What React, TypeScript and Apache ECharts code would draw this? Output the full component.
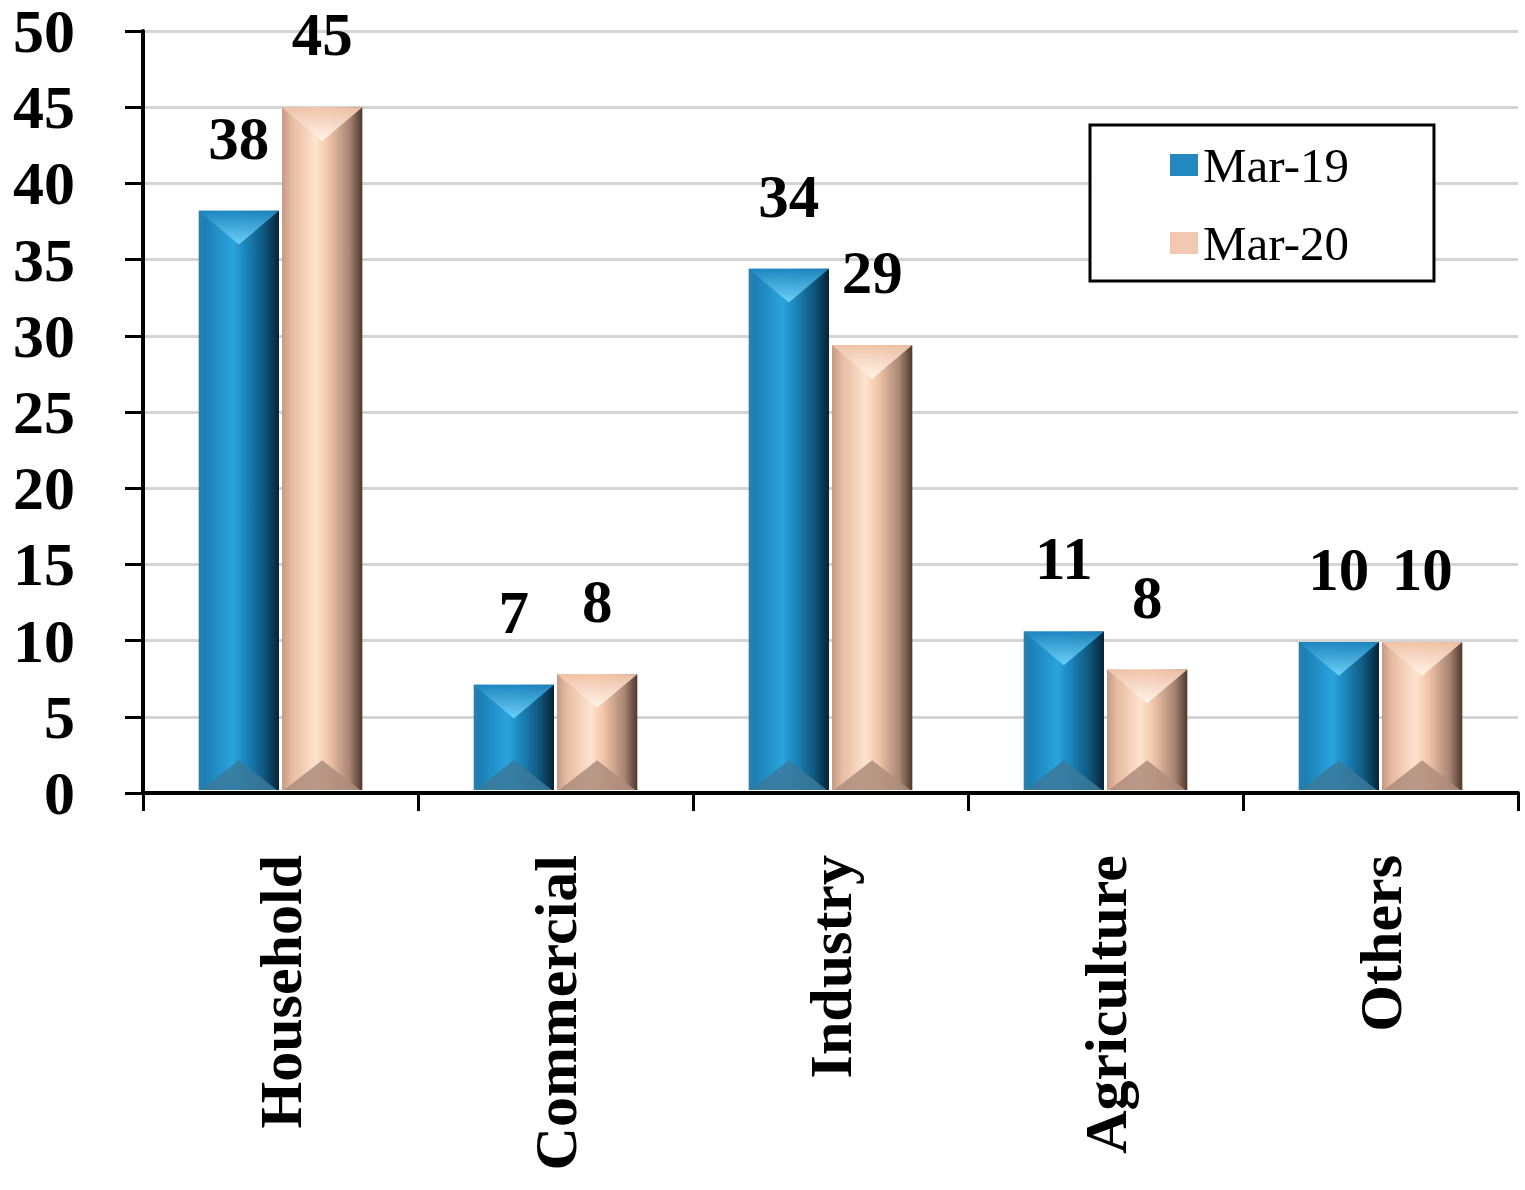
import React, { useEffect, useRef } from "react";
import * as echarts from "echarts";

const categories = ["Household", "Commercial", "Industry", "Agriculture", "Others"];
const seriesNames = ["Mar-19", "Mar-20"];
const mar19 = [38.2, 7.1, 34.4, 10.6, 9.9];
const mar20 = [45.0, 7.8, 29.4, 8.1, 9.9];
const yMin = 0;
const yMax = 50;
const yInterval = 5;

const FONT = '"Liberation Serif", "Times New Roman", serif';

const palettes = [
  {
    legend: "#2389c0",
    side: [
      [0, "#2f7fa9"],
      [0.08, "#1b7fb6"],
      [0.42, "#2aa4dd"],
      [0.55, "#1d8cc4"],
      [0.82, "#0f567c"],
      [1, "#062335"],
    ],
    topEdge: "#1d86c0",
    topApex: "#72d3fa",
    bottom: "#39799a",
  },
  {
    legend: "#f2c9b0",
    side: [
      [0, "#c49a84"],
      [0.12, "#e6bba2"],
      [0.42, "#ffe3cd"],
      [0.58, "#f0c4a9"],
      [0.84, "#a98573"],
      [1, "#4d372c"],
    ],
    topEdge: "#f0c2a7",
    topApex: "#fff6ec",
    bottom: "#ae8c7b",
  },
];

function makeRenderItem(seriesIdx: number) {
  const pal = palettes[seriesIdx];
  return (params: any, api: any) => {
    const idx = api.value(0);
    const val = api.value(1);
    const base = api.coord([idx, 0]);
    const top = api.coord([idx, val]);
    const band = api.size([1, 0])[0];
    const w = band * 0.292;
    const gap = band * 0.011;
    const x = seriesIdx === 0 ? base[0] - gap / 2 - w : base[0] + gap / 2;
    const yTop = top[1];
    const yBot = base[1] - 3;
    const h = yBot - yTop;
    const d = Math.min(w * 0.42, h / 2);
    const db = Math.min(w * 0.37, h / 2);
    const sideGrad = new echarts.graphic.LinearGradient(
      0,
      0,
      1,
      0,
      pal.side.map((s: any) => ({ offset: s[0], color: s[1] }))
    );
    const topGrad = new echarts.graphic.LinearGradient(0, 0, 0, 1, [
      { offset: 0, color: pal.topEdge },
      { offset: 1, color: pal.topApex },
    ]);
    return {
      type: "group",
      children: [
        {
          type: "rect",
          shape: { x, y: yTop, width: w, height: h },
          style: { fill: sideGrad },
        },
        {
          type: "polygon",
          shape: {
            points: [
              [x, yTop],
              [x + w, yTop],
              [x + w / 2, yTop + d],
            ],
          },
          style: { fill: topGrad, opacity: 0.95 },
        },
        {
          type: "polygon",
          shape: {
            points: [
              [x + 2, yBot],
              [x + w - 2, yBot],
              [x + w / 2, yBot - db],
            ],
          },
          style: { fill: pal.bottom, opacity: 0.85 },
        },
        {
          type: "text",
          style: {
            text: String(Math.round(val)),
            x: x + w / 2,
            y: yTop - 42,
            align: "center",
            verticalAlign: "bottom",
            fontSize: 61,
            fontWeight: "bold",
            fontFamily: FONT,
            fill: "#000",
          },
        },
      ],
    };
  };
}

export default function App() {
  const ref = useRef<HTMLDivElement>(null);
  useEffect(() => {
    if (!ref.current) return;
    const chart = echarts.init(ref.current, undefined, { renderer: "svg" });
    const values = [mar19, mar20];
    chart.setOption({
      animation: false,
      backgroundColor: "#ffffff",
      grid: { left: 143, right: 7, top: 23, bottom: 397, containLabel: false },
      legend: {
        orient: "vertical",
        left: 1090,
        top: 125,
        width: 345,
        padding: [15, 85, 13, 80],
        borderColor: "#000",
        borderWidth: 3,
        backgroundColor: "#fff",
        itemWidth: 28,
        itemHeight: 22,
        itemGap: 28,
        icon: "rect",
        data: seriesNames,
        textStyle: {
          fontFamily: FONT,
          fontSize: 49,
          color: "#000",
          lineHeight: 50,
          padding: [0, 0, 0, 0],
        },
      },
      xAxis: {
        type: "category",
        data: categories,
        boundaryGap: true,
        axisLine: { show: true, lineStyle: { color: "#000", width: 4 } },
        axisTick: { show: true, length: 18, interval: 0, lineStyle: { color: "#000", width: 3 } },
        axisLabel: {
          rotate: 90,
          interval: 0,
          margin: 62,
          fontFamily: FONT,
          fontWeight: "bold",
          fontSize: 60,
          color: "#000",
        },
        splitLine: { show: false },
      },
      yAxis: {
        type: "value",
        min: yMin,
        max: yMax,
        interval: yInterval,
        axisLine: { show: true, lineStyle: { color: "#000", width: 4 } },
        axisTick: { show: true, length: 18, lineStyle: { color: "#000", width: 3 } },
        axisLabel: {
          margin: 68,
          fontFamily: FONT,
          fontWeight: "bold",
          fontSize: 62,
          lineHeight: 40,
          color: "#000",
        },
        splitLine: { show: true, lineStyle: { color: "#d4d4d4", width: 3 } },
      },
      series: seriesNames.map((name, si) => ({
        name,
        type: "custom",
        renderItem: makeRenderItem(si),
        encode: { x: 0, y: 1 },
        itemStyle: { color: palettes[si].legend },
        data: values[si].map((v, i) => [i, v]),
        z: 3,
      })),
    });
    return () => chart.dispose();
  }, []);
  return (
    <div
      ref={ref}
      style={{ position: "absolute", left: 0, top: 0, width: 1525, height: 1190 }}
    />
  );
}
